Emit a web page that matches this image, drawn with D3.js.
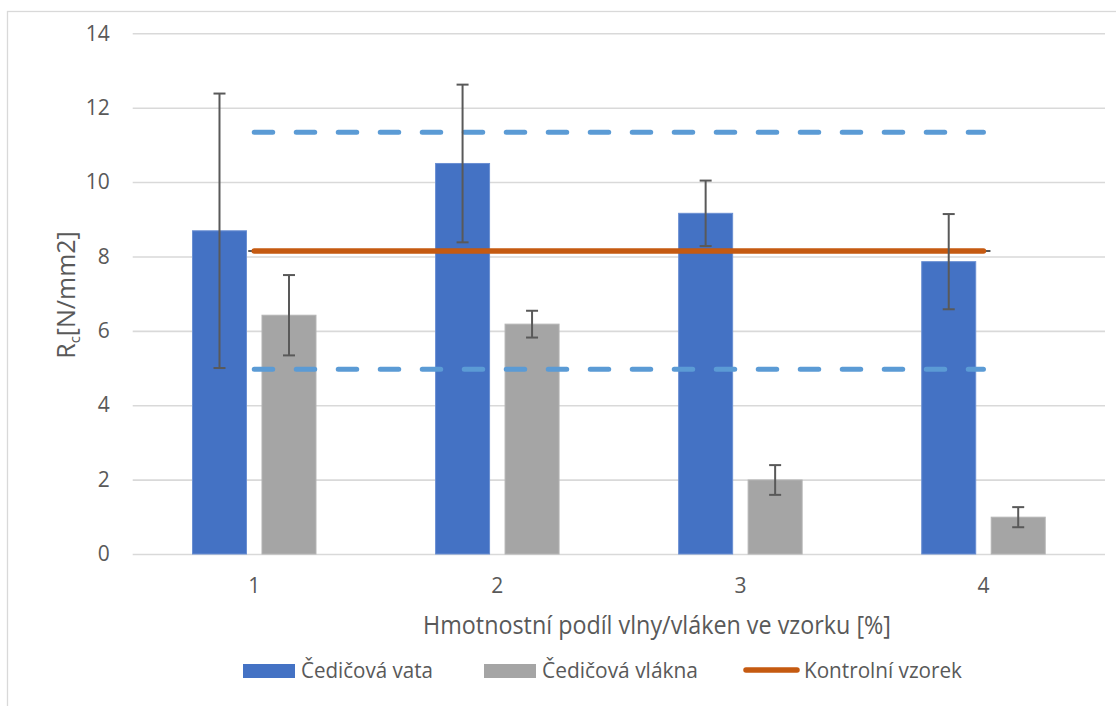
<!DOCTYPE html>
<html>
<head>
<meta charset="utf-8">
<script src="https://cdn.jsdelivr.net/npm/d3@7"></script>
<style>
  body { margin: 0; background: #fff; }
  svg text { font-family: "Open Sans", sans-serif; fill: #595959; }
</style>
</head>
<body>
<div id="chart"></div>
<script>
// data
var categories = ["1", "2", "3", "4"];
var vata = [8.69, 10.50, 9.16, 7.86];        // Čedičová vata
var vataErr = [3.69, 2.12, 0.88, 1.28];
var vlakna = [6.42, 6.18, 1.99, 0.99];       // Čedičová vlákna
var vlaknaErr = [1.08, 0.36, 0.40, 0.27];
var kontrolni = [8.15, 8.15, 8.15, 8.15];    // Kontrolní vzorek
var horni = [11.34, 11.34, 11.34, 11.34];    // upper dashed limit
var dolni = [4.97, 4.97, 4.97, 4.97];        // lower dashed limit
var yTicks = [0, 2, 4, 6, 8, 10, 12, 14];

var width = 1116, height = 706;
// plot area edges (not "top" - that's window.top)
var plotL = 132.7, plotR = 1105, plotT = 33.3, plotB = 554;

var svg = d3.select("#chart").append("svg")
    .attr("width", width)
    .attr("height", height);

// chart border (runs off the right / bottom edge)
svg.append("rect")
    .attr("x", 7.5).attr("y", 11.5)
    .attr("width", 1200).attr("height", 800)
    .attr("fill", "none")
    .attr("stroke", "#d9d9d9")
    .attr("stroke-width", 1.3);

var x = d3.scaleBand().domain(categories).range([plotL, plotR]);
var bw = x.bandwidth();
// two bars per group, 54px wide with a small gap
var x1 = d3.scaleBand().domain(["vata", "vlakna"])
    .range([bw * 0.246, bw * 0.754])
    .paddingInner(0.223);
var y = d3.scaleLinear().domain([0, 14]).range([plotB, plotT]);

// y axis + gridlines
var yAxis = svg.append("g")
    .attr("transform", "translate(" + plotL + ",0)")
    .call(d3.axisLeft(y).tickValues(yTicks).tickSize(-(plotR - plotL)).tickPadding(23));
yAxis.select(".domain").remove();
yAxis.selectAll("line").attr("stroke", "#d9d9d9").attr("stroke-width", 1.6);
yAxis.selectAll("text").style("font-size", "21px").attr("fill", "#595959");

// x axis labels
var xAxis = svg.append("g")
    .attr("transform", "translate(0," + plotB + ")")
    .call(d3.axisBottom(x).tickSize(0).tickPadding(24));
xAxis.select(".domain").remove();
xAxis.selectAll("text").style("font-size", "21px").attr("fill", "#595959");

// bars
var groups = svg.selectAll(".grp")
    .data(categories)
    .enter().append("g")
    .attr("class", "grp")
    .attr("transform", function(d) { return "translate(" + x(d) + ",0)"; });

groups.append("rect")
    .attr("x", x1("vata"))
    .attr("y", function(d, i) { return y(vata[i]); })
    .attr("width", x1.bandwidth())
    .attr("height", function(d, i) { return y(0) - y(vata[i]); })
    .attr("fill", "#4472c4")
    .attr("stroke", "#6a8fd2").attr("stroke-width", 1);

groups.append("rect")
    .attr("x", x1("vlakna"))
    .attr("y", function(d, i) { return y(vlakna[i]); })
    .attr("width", x1.bandwidth())
    .attr("height", function(d, i) { return y(0) - y(vlakna[i]); })
    .attr("fill", "#a5a5a5")
    .attr("stroke", "#b4b4b4").attr("stroke-width", 1);

// control line + dashed limits
var cx = function(d, i) { return x(categories[i]) + bw / 2; };
var line = d3.line().x(cx).y(function(d) { return y(d); });

// little dark stubs that peek out from the ends of the control line
svg.append("line")
    .attr("x1", x(categories[0]) + bw / 2 - 6)
    .attr("x2", x(categories[3]) + bw / 2 + 7)
    .attr("y1", y(kontrolni[0])).attr("y2", y(kontrolni[3]))
    .attr("stroke", "#595959").attr("stroke-width", 2);

svg.append("path")
    .datum(kontrolni)
    .attr("d", line)
    .attr("fill", "none")
    .attr("stroke", "#c55a11")
    .attr("stroke-width", 5.5)
    .attr("stroke-linecap", "round");

[horni, dolni].forEach(function(s) {
  svg.append("path")
      .datum(s)
      .attr("d", line)
      .attr("fill", "none")
      .attr("stroke", "#5b9bd5")
      .attr("stroke-width", 5)
      .attr("stroke-linecap", "round")
      .attr("stroke-dasharray", "18.5,23.5");
});

// error bars
function errorBars(vals, errs, key) {
  var g = svg.append("g").attr("stroke", "#595959").attr("stroke-width", 2);
  categories.forEach(function(c, i) {
    var px = x(c) + x1(key) + x1.bandwidth() / 2;
    var y0 = y(vals[i] - errs[i]), y1 = y(vals[i] + errs[i]);
    g.append("line").attr("x1", px).attr("x2", px).attr("y1", y0).attr("y2", y1);
    g.append("line").attr("x1", px - 6).attr("x2", px + 6).attr("y1", y0).attr("y2", y0);
    g.append("line").attr("x1", px - 6).attr("x2", px + 6).attr("y1", y1).attr("y2", y1);
  });
}
errorBars(vata, vataErr, "vata");
errorBars(vlakna, vlaknaErr, "vlakna");

// axis titles
svg.append("text")
    .attr("x", 423).attr("y", 634)
    .attr("textLength", 468).attr("lengthAdjust", "spacingAndGlyphs")
    .style("font-size", "25px")
    .text("Hmotnostní podíl vlny/vláken ve vzorku [%]");

var yt = svg.append("text")
    .attr("transform", "translate(75,295) rotate(-90)")
    .attr("text-anchor", "middle")
    .style("font-size", "25px");
yt.append("tspan").text("R");
yt.append("tspan").attr("dy", 5).style("font-size", "15px").text("c");
yt.append("tspan").attr("dy", -5).text("[N/mm2]");

// legend
var legend = [
  { name: "Čedičová vata", x: 243, tx: 301, w: 132, type: "rect", color: "#4472c4" },
  { name: "Čedičová vlákna", x: 484, tx: 542, w: 156, type: "rect", color: "#a5a5a5" },
  { name: "Kontrolní vzorek", x: 746, tx: 804, w: 158, type: "line", color: "#c55a11" }
];
legend.forEach(function(l) {
  if (l.type == "rect") {
    svg.append("rect")
        .attr("x", l.x).attr("y", 664)
        .attr("width", 52).attr("height", 14)
        .attr("fill", l.color);
  } else {
    svg.append("line")
        .attr("x1", l.x).attr("x2", l.x + 51)
        .attr("y1", 670).attr("y2", 670)
        .attr("stroke", l.color).attr("stroke-width", 5.5)
        .attr("stroke-linecap", "round");
  }
  svg.append("text")
      .attr("x", l.tx).attr("y", 678)
      .attr("textLength", l.w).attr("lengthAdjust", "spacingAndGlyphs")
      .style("font-size", "22.5px")
      .text(l.name);
});
</script>
</body>
</html>
